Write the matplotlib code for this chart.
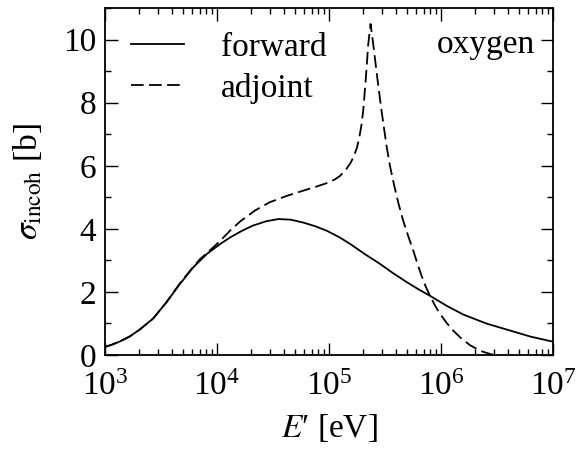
"""Incoherent scattering cross section of oxygen, forward vs adjoint."""

import matplotlib

matplotlib.use("Agg")
import matplotlib.pyplot as plt
from matplotlib.ticker import LogLocator, MultipleLocator, NullFormatter

plt.rcParams["font.family"] = ["Liberation Serif", "DejaVu Serif"]
plt.rcParams["mathtext.fontset"] = "stix"

# log10(E' / eV) and cross section [b]
fwd_logE = [3.00, 3.06, 3.13, 3.22, 3.31, 3.43, 3.55, 3.67, 3.79, 3.91, 4.03,
            4.12, 4.22, 4.32, 4.44, 4.55, 4.66, 4.77, 4.88, 4.98, 5.09, 5.19,
            5.32, 5.455, 5.57, 5.69, 5.80, 5.90, 6.05, 6.20, 6.41, 6.62, 6.80,
            7.00]
fwd_sigma = [0.25, 0.32, 0.42, 0.58, 0.80, 1.15, 1.67, 2.25, 2.78, 3.20, 3.52,
             3.73, 3.93, 4.10, 4.24, 4.31, 4.29, 4.20, 4.08, 3.94, 3.74, 3.52,
             3.20, 2.89, 2.60, 2.32, 2.08, 1.88, 1.56, 1.28, 0.99, 0.77, 0.58,
             0.42]

adj_logE = [3.00, 3.06, 3.13, 3.22, 3.31, 3.43, 3.55, 3.67, 3.79, 3.85, 3.97,
            4.03, 4.12, 4.21, 4.34, 4.47, 4.62, 4.77, 4.88, 4.98, 5.05, 5.10,
            5.15, 5.19, 5.22, 5.25, 5.27, 5.29, 5.306, 5.33, 5.351, 5.372,
            5.396, 5.432, 5.47, 5.515, 5.545, 5.569, 5.589, 5.62, 5.663, 5.71,
            5.753, 5.79, 5.828, 5.865, 5.902, 5.945, 5.991, 6.05, 6.11, 6.18,
            6.259, 6.35, 6.438, 6.47]
adj_sigma = [0.25, 0.32, 0.42, 0.58, 0.80, 1.15, 1.67, 2.27, 2.80, 3.04, 3.42,
             3.62, 3.95, 4.24, 4.58, 4.84, 5.04, 5.21, 5.33, 5.45, 5.56, 5.68,
             5.87, 6.07, 6.28, 6.57, 6.87, 7.28, 7.74, 8.79, 9.85, 10.50,
             9.85, 8.79, 7.74, 6.62, 6.00, 5.60, 5.28, 4.82, 4.26, 3.75,
             3.31, 2.90, 2.50, 2.16, 1.88, 1.58, 1.31, 1.02, 0.77, 0.53,
             0.31, 0.13, 0.03, 0.00]

fwd_E = [10 ** v for v in fwd_logE]
adj_E = [10 ** v for v in adj_logE]

fig = plt.figure(figsize=(5.76, 4.55), dpi=100)
ax = fig.add_axes([0.182, 0.220, 0.778, 0.762])

ax.plot(fwd_E, fwd_sigma, color="black", lw=1.3, label="forward")
ax.plot(adj_E, adj_sigma, color="black", lw=1.3, dashes=(7, 3), label="adjoint")

ax.set_xscale("log")
ax.set_xlim(1e3, 1e7)
ax.set_ylim(0, 11)
ax.yaxis.set_major_locator(MultipleLocator(2))
ax.yaxis.set_minor_locator(MultipleLocator(1))
ax.xaxis.set_major_locator(LogLocator(base=10, numticks=10))
ax.xaxis.set_minor_locator(LogLocator(base=10, subs=range(2, 10), numticks=50))
ax.xaxis.set_minor_formatter(NullFormatter())

ax.tick_params(which="both", direction="in", top=True, right=True,
               labelsize=24, width=1.0)
ax.tick_params(which="major", length=9)
ax.tick_params(which="minor", length=4.5)
ax.tick_params(axis="x", which="major", pad=12)
ax.tick_params(axis="y", which="major", pad=6)
for s in ax.spines.values():
    s.set_linewidth(1.3)

ax.set_xlabel("$E$\u2032 [eV]", fontsize=24, labelpad=7)
ax.set_ylabel(r"$\sigma_{\mathrm{incoh}}$ [b]", fontsize=24, labelpad=14)

ax.legend(loc="upper left", frameon=False, fontsize=24, handlelength=1.6,
          handletextpad=1.1, labelspacing=0.3, borderaxespad=0.2,
          bbox_to_anchor=(0.013, 0.988))
ax.text(0.96, 0.895, "oxygen", transform=ax.transAxes, fontsize=24,
        ha="right", va="center")

fig.savefig("out.png", dpi=100)
